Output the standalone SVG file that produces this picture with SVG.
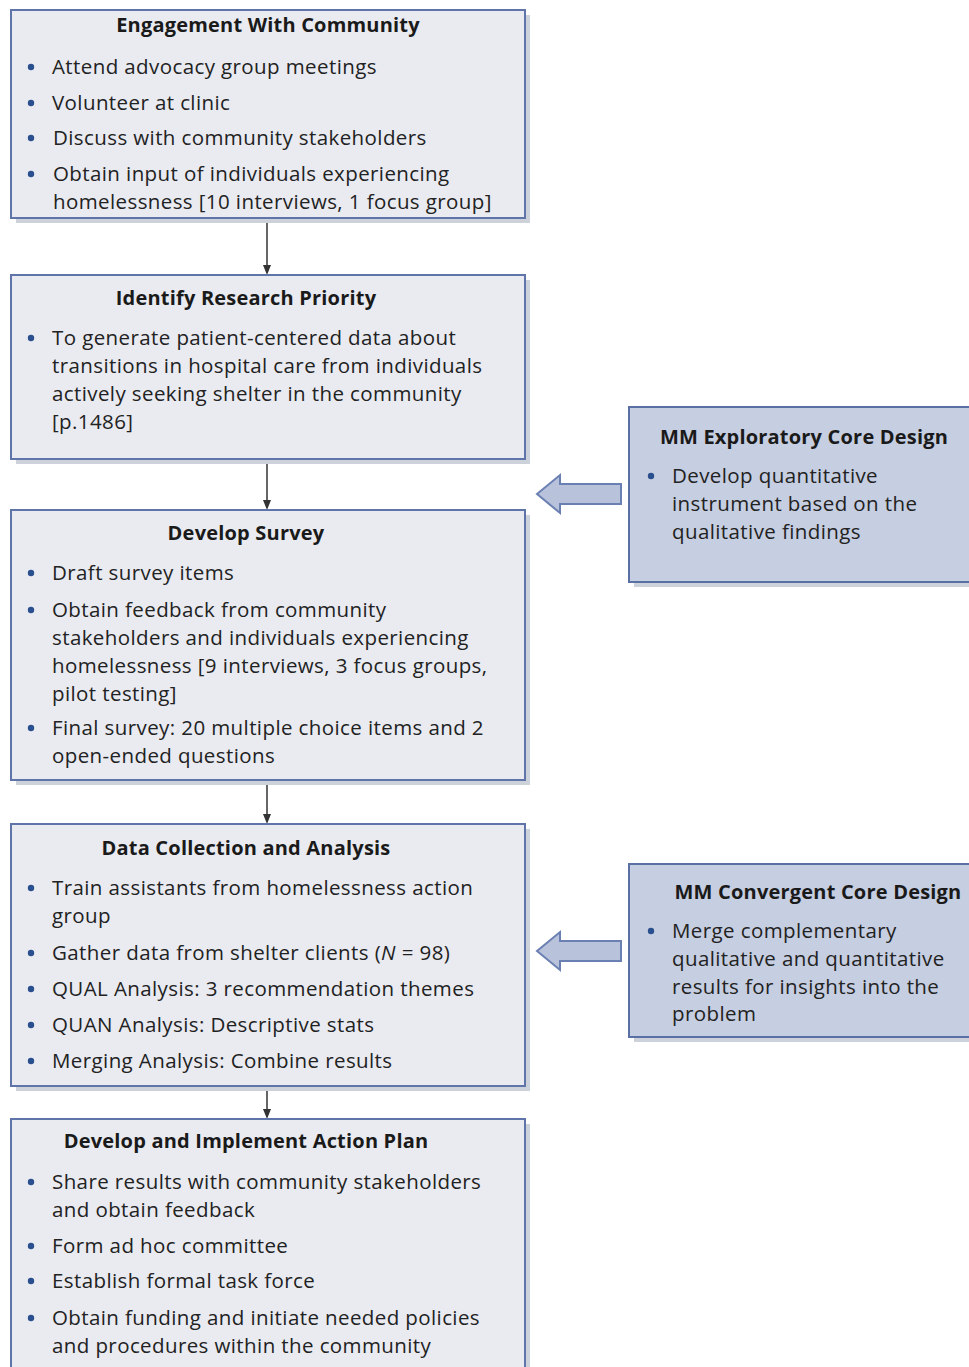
<svg xmlns="http://www.w3.org/2000/svg" width="969" height="1367" viewBox="0 0 969 1367">
<style>
.box{fill:#e9ebf1;stroke:#5f74a8;stroke-width:2}
.rbox{fill:#c6cee1;stroke:#5a6fa3;stroke-width:2}
.sh{fill:#cdd1da}
.t{font-family:"Open Sans","Liberation Sans",Arial,sans-serif;font-size:20.5px;letter-spacing:0.4px;fill:#222}
.h{font-family:"Open Sans","Liberation Sans",Arial,sans-serif;font-size:20px;letter-spacing:0.2px;font-weight:bold;fill:#1a1a1a;text-anchor:middle}
.b{fill:#2a4f8f}
.ln{stroke:#333;stroke-width:1.5;fill:none}
.blk{fill:#b8c2da;stroke:#6b80b2;stroke-width:2}
</style>
<defs>
<marker id="ah" markerWidth="10" markerHeight="10" refX="5" refY="5" orient="auto" markerUnits="userSpaceOnUse">
<path d="M0,1 L10,5 L0,9 Z" fill="#333"/>
</marker>
</defs>
<rect width="969" height="1367" fill="#fff"/>
<g id="connectors">
<line class="ln" x1="267" y1="219" x2="267" y2="270" marker-end="url(#ah)"/>
<line class="ln" x1="267" y1="460" x2="267" y2="505" marker-end="url(#ah)"/>
<line class="ln" x1="267" y1="781" x2="267" y2="819" marker-end="url(#ah)"/>
<line class="ln" x1="267" y1="1087" x2="267" y2="1114" marker-end="url(#ah)"/>
<path class="blk" d="M621,484 L560,484 L560,475 L537,494 L560,513 L560,504 L621,504 Z"/>
<path class="blk" d="M621,941 L560,941 L560,932 L537,951 L560,970 L560,961 L621,961 Z"/>
</g>
<g id="n1">
<rect class="sh" x="16" y="15" width="514" height="208"/>
<rect class="box" x="11" y="10" width="514" height="208"/>
<text class="h" x="268" y="32">Engagement With Community</text>
<circle class="b" cx="31" cy="67" r="3.2"/><text class="t" x="52" y="74">Attend advocacy group meetings</text>
<circle class="b" cx="31" cy="103" r="3.2"/><text class="t" x="52" y="110">Volunteer at clinic</text>
<circle class="b" cx="31" cy="138" r="3.2"/><text class="t" x="53" y="145">Discuss with community stakeholders</text>
<circle class="b" cx="31" cy="174" r="3.2"/><text class="t" x="53" y="181">Obtain input of individuals experiencing</text>
<text class="t" x="53" y="209">homelessness [10 interviews, 1 focus group]</text>
</g>
<g id="n2">
<rect class="sh" x="16" y="280" width="514" height="184"/>
<rect class="box" x="11" y="275" width="514" height="184"/>
<text class="h" x="246" y="305">Identify Research Priority</text>
<circle class="b" cx="31" cy="338" r="3.2"/><text class="t" x="52" y="345">To generate patient-centered data about</text>
<text class="t" x="52" y="373">transitions in hospital care from individuals</text>
<text class="t" x="52" y="401">actively seeking shelter in the community</text>
<text class="t" x="52" y="429">[p.1486]</text>
</g>
<g id="n3">
<rect class="sh" x="16" y="515" width="514" height="270"/>
<rect class="box" x="11" y="510" width="514" height="270"/>
<text class="h" x="246" y="540">Develop Survey</text>
<circle class="b" cx="31" cy="573" r="3.2"/><text class="t" x="52" y="580">Draft survey items</text>
<circle class="b" cx="31" cy="610" r="3.2"/><text class="t" x="52" y="617">Obtain feedback from community</text>
<text class="t" x="52" y="645">stakeholders and individuals experiencing</text>
<text class="t" x="52" y="673">homelessness [9 interviews, 3 focus groups,</text>
<text class="t" x="52" y="701">pilot testing]</text>
<circle class="b" cx="31" cy="728" r="3.2"/><text class="t" x="52" y="735">Final survey: 20 multiple choice items and 2</text>
<text class="t" x="52" y="763">open-ended questions</text>
</g>
<g id="n4">
<rect class="sh" x="16" y="829" width="514" height="262"/>
<rect class="box" x="11" y="824" width="514" height="262"/>
<text class="h" x="246" y="855">Data Collection and Analysis</text>
<circle class="b" cx="31" cy="888" r="3.2"/><text class="t" x="52" y="895">Train assistants from homelessness action</text>
<text class="t" x="52" y="923">group</text>
<circle class="b" cx="31" cy="953" r="3.2"/><text class="t" x="52" y="960">Gather data from shelter clients (<tspan font-style="italic">N</tspan> = 98)</text>
<circle class="b" cx="31" cy="989" r="3.2"/><text class="t" x="52" y="996">QUAL Analysis: 3 recommendation themes</text>
<circle class="b" cx="31" cy="1025" r="3.2"/><text class="t" x="52" y="1032">QUAN Analysis: Descriptive stats</text>
<circle class="b" cx="31" cy="1061" r="3.2"/><text class="t" x="52" y="1068">Merging Analysis: Combine results</text>
</g>
<g id="n5">
<rect class="sh" x="16" y="1124" width="514" height="260"/>
<rect class="box" x="11" y="1119" width="514" height="260"/>
<text class="h" x="246" y="1148">Develop and Implement Action Plan</text>
<circle class="b" cx="31" cy="1182" r="3.2"/><text class="t" x="52" y="1189">Share results with community stakeholders</text>
<text class="t" x="52" y="1217">and obtain feedback</text>
<circle class="b" cx="31" cy="1246" r="3.2"/><text class="t" x="52" y="1253">Form ad hoc committee</text>
<circle class="b" cx="31" cy="1281" r="3.2"/><text class="t" x="52" y="1288">Establish formal task force</text>
<circle class="b" cx="31" cy="1318" r="3.2"/><text class="t" x="52" y="1325">Obtain funding and initiate needed policies</text>
<text class="t" x="52" y="1353">and procedures within the community</text>
</g>
<g id="r1">
<rect class="sh" x="634" y="412" width="345" height="175"/>
<rect class="rbox" x="629" y="407" width="345" height="175"/>
<text class="h" x="804" y="444">MM Exploratory Core Design</text>
<circle class="b" cx="651" cy="476" r="3.2"/><text class="t" x="672" y="483">Develop quantitative</text>
<text class="t" x="672" y="511">instrument based on the</text>
<text class="t" x="672" y="539">qualitative findings</text>
</g>
<g id="r2">
<rect class="sh" x="634" y="869" width="345" height="173"/>
<rect class="rbox" x="629" y="864" width="345" height="173"/>
<text class="h" x="818" y="899">MM Convergent Core Design</text>
<circle class="b" cx="651" cy="931" r="3.2"/><text class="t" x="672" y="938">Merge complementary</text>
<text class="t" x="672" y="966">qualitative and quantitative</text>
<text class="t" x="672" y="994">results for insights into the</text>
<text class="t" x="672" y="1021">problem</text>
</g>
</svg>
